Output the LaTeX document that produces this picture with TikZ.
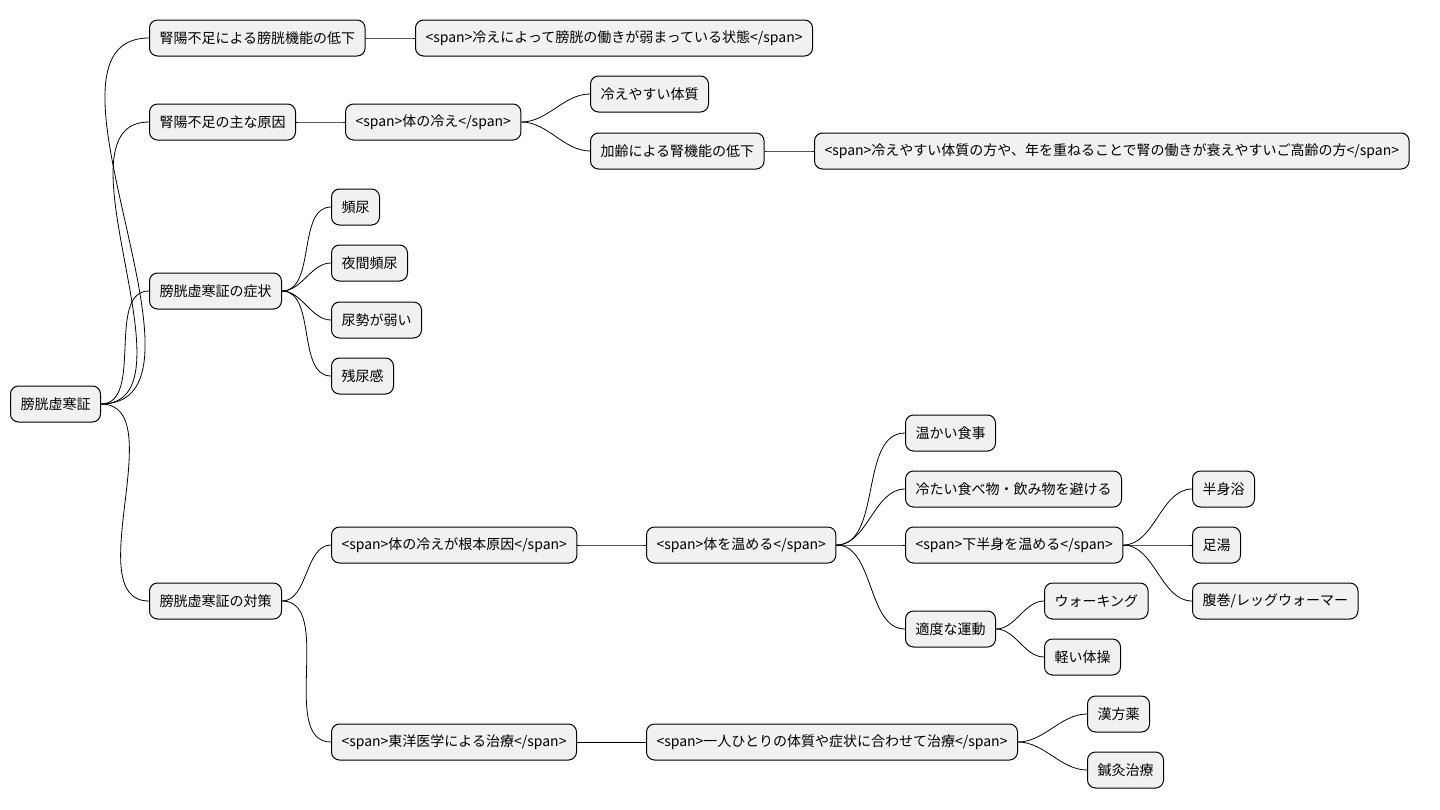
\documentclass[tikz,border=0pt]{standalone}
\usepackage{fontspec}
\setmainfont{Noto Sans CJK JP}
\definecolor{topicfill}{HTML}{F1F1F1}
\tikzset{
    topic/.style = {
        draw, fill=topicfill, rounded corners=8pt, line width=1pt, anchor=west,
        minimum height=36pt, inner xsep=10pt, font=\fontsize{14}{16}\selectfont
    },
    link/.style = {line width=0.8pt, out=0, in=180, looseness=0.9},
}
\newcommand\topicnode[4]{\node[topic] (#1) at (#2,#3) {#4};}
\begin{document}
\begin{tikzpicture}[x=1pt, y=-1pt]
    \useasboundingbox (0,0) rectangle (1440,809);
    % Place the topics
    \topicnode{root}{10}{404}{膀胱虚寒証}
    \topicnode{a}{149}{38}{腎陽不足による膀胱機能の低下}
    \topicnode{b}{149}{122}{腎陽不足の主な原因}
    \topicnode{c}{149}{291}{膀胱虚寒証の症状}
    \topicnode{d}{149}{601}{膀胱虚寒証の対策}
    \topicnode{a1}{415}{38}{<span>冷えによって膀胱の働きが弱まっている状態</span>}
    \topicnode{b1}{345}{122}{<span>体の冷え</span>}
    \topicnode{b11}{590}{94}{冷えやすい体質}
    \topicnode{b12}{590}{151}{加齢による腎機能の低下}
    \topicnode{b121}{814}{151}{<span>冷えやすい体質の方や、年を重ねることで腎の働きが衰えやすいご高齢の方</span>}
    \topicnode{c1}{331}{207}{頻尿}
    \topicnode{c2}{331}{263}{夜間頻尿}
    \topicnode{c3}{331}{320}{尿勢が弱い}
    \topicnode{c4}{331}{376}{残尿感}
    \topicnode{d1}{331}{545}{<span>体の冷えが根本原因</span>}
    \topicnode{d2}{331}{742}{<span>東洋医学による治療</span>}
    \topicnode{d11}{646}{545}{<span>体を温める</span>}
    \topicnode{d21}{646}{742}{<span>一人ひとりの体質や症状に合わせて治療</span>}
    \topicnode{e1}{905}{433}{温かい食事}
    \topicnode{e2}{905}{489}{冷たい食べ物・飲み物を避ける}
    \topicnode{e3}{905}{545}{<span>下半身を温める</span>}
    \topicnode{e4}{905}{629}{適度な運動}
    \topicnode{e31}{1192}{489}{半身浴}
    \topicnode{e32}{1192}{545}{足湯}
    \topicnode{e33}{1192}{601}{腹巻/レッグウォーマー}
    \topicnode{e41}{1044}{601}{ウォーキング}
    \topicnode{e42}{1044}{657}{軽い体操}
    \topicnode{f1}{1087}{714}{漢方薬}
    \topicnode{f2}{1087}{770}{鍼灸治療}
    % Draw connections
    \foreach \p/\q in {root/a, root/b, root/c, root/d, a/a1, b/b1, b1/b11, b1/b12, b12/b121,
        c/c1, c/c2, c/c3, c/c4, d/d1, d/d2, d1/d11, d2/d21, d11/e1, d11/e2, d11/e3, d11/e4,
        e3/e31, e3/e32, e3/e33, e4/e41, e4/e42, d21/f1, d21/f2}{
        \draw[link] (\p.east) to (\q.west);
    }
\end{tikzpicture}
\end{document}
